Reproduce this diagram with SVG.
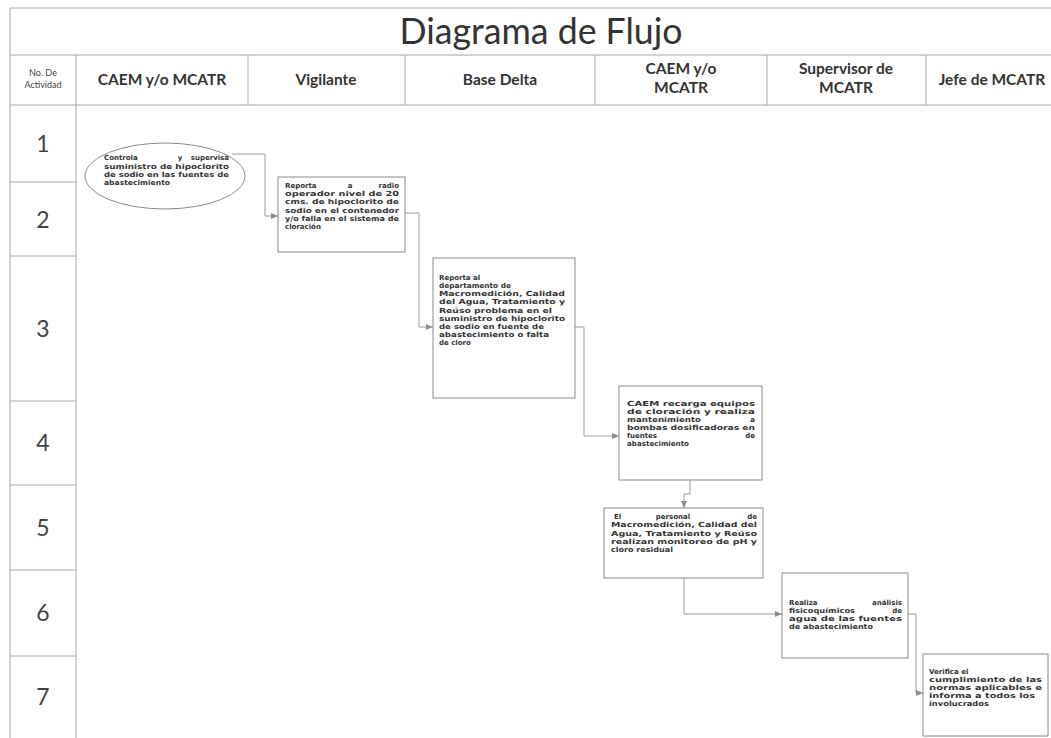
<svg xmlns="http://www.w3.org/2000/svg" width="1051" height="738" viewBox="0 0 1051 738">
<style>
.grid{stroke:#a8a8a8;stroke-width:1;fill:none}
.title{font-family:Lato,"Open Sans","Liberation Sans",sans-serif;font-size:36px;fill:#333}
.hd{font-family:Lato,"Open Sans","Liberation Sans",sans-serif;font-size:15.5px;font-weight:bold;fill:#333;text-anchor:middle}
.hs{font-family:Lato,"Open Sans","Liberation Sans",sans-serif;font-size:9px;fill:#444;text-anchor:middle}
.num{font-family:Lato,"Open Sans","Liberation Sans",sans-serif;font-size:23px;fill:#444;text-anchor:middle}
.box{fill:#fff;stroke:#8a8a8a;stroke-width:1}
.t{font-family:"DejaVu Sans","Liberation Sans",sans-serif;font-size:7px;font-weight:bold;fill:#333}
.e{text-anchor:end}
.m{text-anchor:middle}
.conn{fill:none;stroke:#9a9a9a;stroke-width:1;marker-end:url(#arr)}
</style>
<defs>
<marker id="arr" markerWidth="8" markerHeight="6" refX="7" refY="3" orient="auto" markerUnits="userSpaceOnUse">
<path d="M0,0 L7,3 L0,6 z" fill="#8c8c8c"/>
</marker>
</defs>
<rect x="0" y="0" width="1051" height="738" fill="#fff"/>
<g id="table">
<line class="grid" x1="10" y1="8" x2="1051" y2="8"/>
<line class="grid" x1="10" y1="8" x2="10" y2="738"/>
<line class="grid" x1="10" y1="55" x2="1051" y2="55"/>
<line class="grid" x1="10" y1="105" x2="1051" y2="105"/>
<line class="grid" x1="76" y1="55" x2="76" y2="738"/>
<line class="grid" x1="248" y1="55" x2="248" y2="105"/>
<line class="grid" x1="405" y1="55" x2="405" y2="105"/>
<line class="grid" x1="595" y1="55" x2="595" y2="105"/>
<line class="grid" x1="767" y1="55" x2="767" y2="105"/>
<line class="grid" x1="926" y1="55" x2="926" y2="105"/>
<line class="grid" x1="10" y1="182" x2="76" y2="182"/>
<line class="grid" x1="10" y1="256" x2="76" y2="256"/>
<line class="grid" x1="10" y1="401" x2="76" y2="401"/>
<line class="grid" x1="10" y1="485" x2="76" y2="485"/>
<line class="grid" x1="10" y1="570" x2="76" y2="570"/>
<line class="grid" x1="10" y1="656" x2="76" y2="656"/>
<text class="title" x="541" y="44" text-anchor="middle" textLength="283" lengthAdjust="spacingAndGlyphs">Diagrama de Flujo</text>
<text class="hs" x="43" y="76">No. De</text>
<text class="hs" x="43" y="88">Actividad</text>
<text class="hd" x="162" y="85">CAEM y/o MCATR</text>
<text class="hd" x="326" y="85">Vigilante</text>
<text class="hd" x="500" y="85">Base Delta</text>
<text class="hd" x="681" y="74">CAEM y/o</text>
<text class="hd" x="681" y="93">MCATR</text>
<text class="hd" x="846" y="74">Supervisor de</text>
<text class="hd" x="846" y="93">MCATR</text>
<text class="hd" x="992" y="85">Jefe de MCATR</text>
<text class="num" x="43" y="152">1</text>
<text class="num" x="43" y="228">2</text>
<text class="num" x="43" y="337">3</text>
<text class="num" x="43" y="451">4</text>
<text class="num" x="43" y="536">5</text>
<text class="num" x="43" y="621">6</text>
<text class="num" x="43" y="705">7</text>
</g>
<g id="connectors">
<path class="conn" d="M232,154 H265 V216 H278"/>
<path class="conn" d="M405,213 H419 V327 H433"/>
<path class="conn" d="M575,327 H584 V436 H619"/>
<path class="conn" d="M690,480 V494 H684 V508"/>
<path class="conn" d="M684,578 V614 H782"/>
<path class="conn" d="M908,614 H916 V693 H923"/>
</g>
<g id="n1">
<ellipse class="box" cx="165" cy="176" rx="80" ry="33"/>
<text class="t" x="104" y="160.4">Controla</text>
<text class="t m" x="180" y="160.4">y</text>
<text class="t e" x="229" y="160.4">supervisa</text>
<text class="t" x="104" y="168.5" textLength="125" lengthAdjust="spacingAndGlyphs">suministro de hipoclorito</text>
<text class="t" x="104" y="176.6" textLength="125" lengthAdjust="spacingAndGlyphs">de sodio en las fuentes de</text>
<text class="t" x="104" y="184.7" textLength="66" lengthAdjust="spacingAndGlyphs">abastecimiento</text>
</g>
<g id="n2">
<rect class="box" x="278" y="177" width="127" height="75"/>
<text class="t" x="285" y="188.2">Reporta</text>
<text class="t m" x="350" y="188.2">a</text>
<text class="t e" x="399" y="188.2">radio</text>
<text class="t" x="285" y="196.3" textLength="114" lengthAdjust="spacingAndGlyphs">operador nivel de 20</text>
<text class="t" x="285" y="204.4" textLength="114" lengthAdjust="spacingAndGlyphs">cms. de hipoclorito de</text>
<text class="t" x="285" y="212.5" textLength="114" lengthAdjust="spacingAndGlyphs">sodio en el contenedor</text>
<text class="t" x="285" y="220.6" textLength="114" lengthAdjust="spacingAndGlyphs">y/o falla en el sistema de</text>
<text class="t" x="285" y="228.7">cloración</text>
</g>
<g id="n3">
<rect class="box" x="433" y="258" width="142" height="140"/>
<text class="t" x="439" y="280.1">Reporta al</text>
<text class="t" x="439" y="288.2" textLength="72" lengthAdjust="spacingAndGlyphs">departamento de</text>
<text class="t" x="439" y="296.3" textLength="126" lengthAdjust="spacingAndGlyphs">Macromedición, Calidad</text>
<text class="t" x="439" y="304.4" textLength="126" lengthAdjust="spacingAndGlyphs">del Agua, Tratamiento y</text>
<text class="t" x="439" y="312.5" textLength="113" lengthAdjust="spacingAndGlyphs">Reúso problema en el</text>
<text class="t" x="439" y="320.6" textLength="126" lengthAdjust="spacingAndGlyphs">suministro de hipoclorito</text>
<text class="t" x="439" y="328.7" textLength="105" lengthAdjust="spacingAndGlyphs">de sodio en fuente de</text>
<text class="t" x="439" y="336.8" textLength="110" lengthAdjust="spacingAndGlyphs">abastecimiento o falta</text>
<text class="t" x="439" y="344.9">de cloro</text>
</g>
<g id="n4">
<rect class="box" x="619" y="386" width="143" height="94"/>
<text class="t" x="627" y="405.8" textLength="128" lengthAdjust="spacingAndGlyphs">CAEM recarga equipos</text>
<text class="t" x="627" y="413.9" textLength="128" lengthAdjust="spacingAndGlyphs">de cloración y realiza</text>
<text class="t" x="627" y="422" textLength="74" lengthAdjust="spacingAndGlyphs">mantenimiento</text>
<text class="t e" x="755" y="422">a</text>
<text class="t" x="627" y="430.1" textLength="128" lengthAdjust="spacingAndGlyphs">bombas dosificadoras en</text>
<text class="t" x="627" y="438.2">fuentes</text>
<text class="t e" x="755" y="438.2">de</text>
<text class="t" x="627" y="446.3" textLength="62" lengthAdjust="spacingAndGlyphs">abastecimiento</text>
</g>
<g id="n5">
<rect class="box" x="604" y="508" width="159" height="70"/>
<text class="t" x="614" y="519.3">El</text>
<text class="t m" x="673" y="519.3">personal</text>
<text class="t e" x="757" y="519.3">de</text>
<text class="t" x="611" y="527.4" textLength="146" lengthAdjust="spacingAndGlyphs">Macromedición, Calidad del</text>
<text class="t" x="611" y="535.5" textLength="146" lengthAdjust="spacingAndGlyphs">Agua, Tratamiento y Reúso</text>
<text class="t" x="611" y="543.6" textLength="146" lengthAdjust="spacingAndGlyphs">realizan monitoreo de pH y</text>
<text class="t" x="611" y="551.7" textLength="62" lengthAdjust="spacingAndGlyphs">cloro residual</text>
</g>
<g id="n6">
<rect class="box" x="782" y="573" width="126" height="85"/>
<text class="t" x="789" y="604.8">Realiza</text>
<text class="t e" x="902" y="604.8">análisis</text>
<text class="t" x="789" y="612.9" textLength="66" lengthAdjust="spacingAndGlyphs">fisicoquímicos</text>
<text class="t e" x="902" y="612.9">de</text>
<text class="t" x="789" y="621" textLength="113" lengthAdjust="spacingAndGlyphs">agua de las fuentes</text>
<text class="t" x="789" y="629.1" textLength="84" lengthAdjust="spacingAndGlyphs">de abastecimiento</text>
</g>
<g id="n7">
<rect class="box" x="923" y="654" width="125" height="82"/>
<text class="t" x="929" y="673.8">Verifica el</text>
<text class="t" x="929" y="681.9" textLength="113" lengthAdjust="spacingAndGlyphs">cumplimiento de las</text>
<text class="t" x="929" y="690" textLength="113" lengthAdjust="spacingAndGlyphs">normas aplicables e</text>
<text class="t" x="929" y="698.1" textLength="106" lengthAdjust="spacingAndGlyphs">informa a todos los</text>
<text class="t" x="929" y="706.2" textLength="60" lengthAdjust="spacingAndGlyphs">involucrados</text>
</g>
</svg>
